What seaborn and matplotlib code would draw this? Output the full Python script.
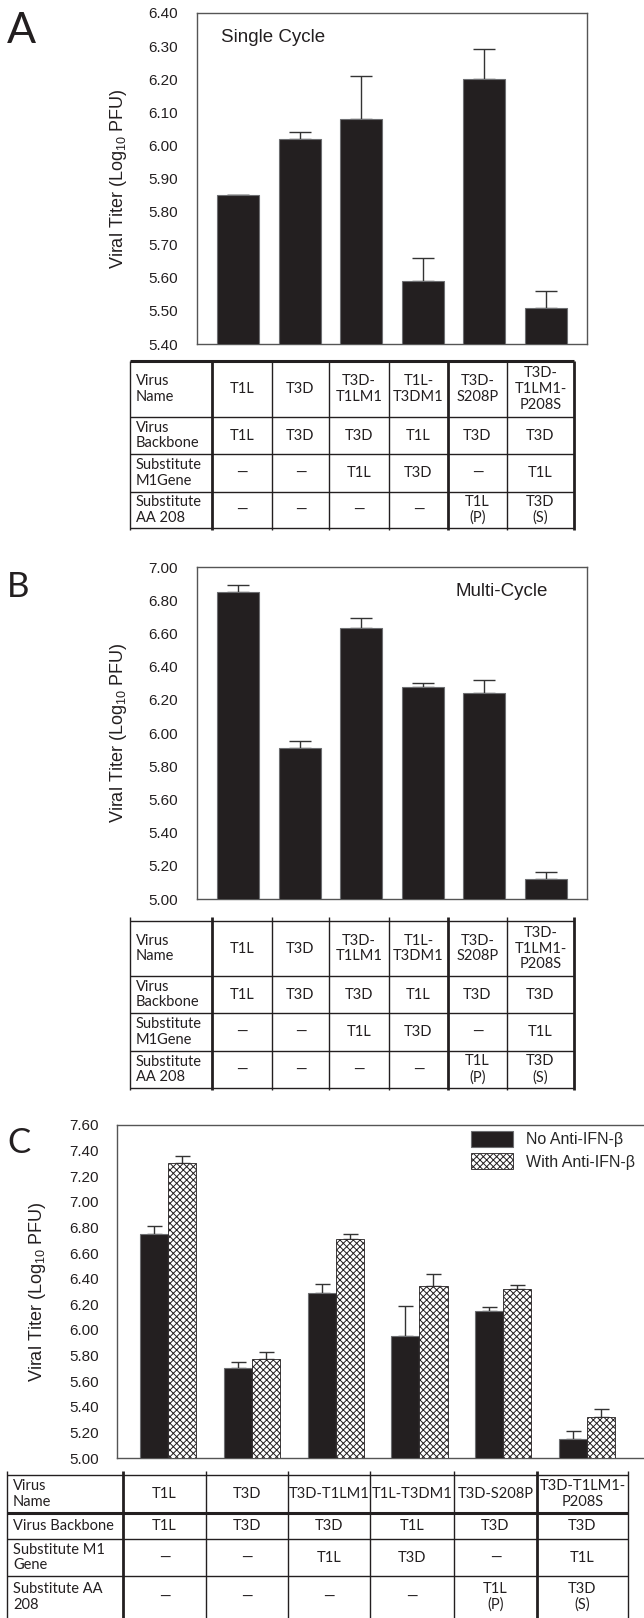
import numpy as np
import pandas as pd
import matplotlib
matplotlib.use("Agg")
import matplotlib.pyplot as plt
from matplotlib.patches import Patch
from matplotlib.ticker import MultipleLocator, FormatStrFormatter
import seaborn as sns

# ---- data -------------------------------------------------------------
viruses = ["T1L", "T3D", "T3D-T1LM1", "T1L-T3DM1", "T3D-S208P", "T3D-T1LM1-P208S"]

single_cycle = [5.85, 6.02, 6.08, 5.59, 6.20, 5.51]
single_cycle_err = [0.00, 0.02, 0.13, 0.07, 0.09, 0.05]

multi_cycle = [6.85, 5.91, 6.63, 6.28, 6.24, 5.12]
multi_cycle_err = [0.04, 0.04, 0.06, 0.02, 0.08, 0.04]

no_anti_ifn = [6.75, 5.70, 6.29, 5.95, 6.15, 5.15]
no_anti_ifn_err = [0.06, 0.05, 0.07, 0.24, 0.03, 0.06]
with_anti_ifn = [7.30, 5.77, 6.71, 6.34, 6.32, 5.32]
with_anti_ifn_err = [0.06, 0.06, 0.04, 0.10, 0.03, 0.06]

treatments = ["No Anti-IFN-β", "With Anti-IFN-β"]

names_narrow = ["T1L", "T3D", "T3D-\nT1LM1", "T1L-\nT3DM1", "T3D-\nS208P", "T3D-\nT1LM1-\nP208S"]
names_wide = ["T1L", "T3D", "T3D-T1LM1", "T1L-T3DM1", "T3D-S208P", "T3D-T1LM1-\nP208S"]
backbone = ["T1L", "T3D", "T3D", "T1L", "T3D", "T3D"]
subst_m1 = ["—", "—", "T1L", "T3D", "—", "T1L"]
subst_aa208 = ["—", "—", "—", "—", "T1L\n(P)", "T3D\n(S)"]
row_heads_narrow = ["Virus\nName", "Virus\nBackbone", "Substitute\nM1Gene", "Substitute\nAA 208"]
row_heads_wide = ["Virus\nName", "Virus Backbone", "Substitute M1\nGene", "Substitute AA\n208"]

# ---- style ------------------------------------------------------------
sns.set_theme(style="white")
plt.rcParams["font.family"] = ["Liberation Sans", "DejaVu Sans"]
plt.rcParams["mathtext.fontset"] = "custom"
plt.rcParams["mathtext.rm"] = "Liberation Sans"
plt.rcParams["mathtext.it"] = "Liberation Sans:italic"
plt.rcParams["hatch.linewidth"] = 0.7
TABLE_FONT = ["Lato", "DejaVu Sans"]
BAR = "#231f20"
EDGE = "#6d6e71"
ERR = "#333333"

W, H = 644, 1618
fig = plt.figure(figsize=(W / 100, H / 100), dpi=100)


def px_axes(left, top, right, bottom):
    return fig.add_axes([left / W, 1 - bottom / H, (right - left) / W, (bottom - top) / H])


def style_axis(ax, ymin, ymax, major, minor, right_spine=True):
    ax.set_ylim(ymin, ymax)
    ax.yaxis.set_major_locator(MultipleLocator(major))
    ax.yaxis.set_minor_locator(MultipleLocator(minor))
    ax.yaxis.set_major_formatter(FormatStrFormatter("%.2f"))
    ax.tick_params(axis="y", which="major", direction="in", length=7, width=0.9,
                   color="#444444", pad=14, labelsize=11, labelcolor="#231f20")
    ax.tick_params(axis="y", which="minor", direction="in", length=4, width=0.7, color="#444444")
    ax.tick_params(axis="x", length=0)
    ax.set_xticks([])
    ax.set_xlabel("")
    for side, sp in ax.spines.items():
        sp.set_color("#555555")
        sp.set_linewidth(1.0)
    if not right_spine:
        ax.spines["right"].set_visible(False)
    ax.set_ylabel("Viral Titer (Log$_{10}$ PFU)", fontsize=13, color="#231f20")


def single_panel(ax, values, errs, ymin, ymax, major, minor):
    df = pd.DataFrame({"virus": viruses, "titer": values})
    sns.barplot(data=df, x="virus", y="titer", order=viruses, color=BAR, saturation=1,
                width=0.68, errorbar=None, edgecolor=EDGE, linewidth=0.8, ax=ax)
    for p in ax.patches:
        p.set_zorder(3)
    x = np.arange(len(viruses))
    ax.errorbar(x, values, yerr=[np.zeros(len(errs)), errs], fmt="none", ecolor=ERR,
                elinewidth=1.0, capsize=7.6, capthick=1.0, zorder=2)
    ax.set_xlim(-0.665, 5.665)
    style_axis(ax, ymin, ymax, major, minor)


# ---- panel A ----------------------------------------------------------
axA = px_axes(197, 13, 587, 344)
single_panel(axA, single_cycle, single_cycle_err, 5.40, 6.40, 0.10, 0.01)
axA.yaxis.set_label_coords(-0.175, 0.5)
axA.text(0.0615, 0.927, "Single Cycle", transform=axA.transAxes, fontsize=13.5,
         ha="left", va="center", color="#231f20")

# ---- panel B ----------------------------------------------------------
axB = px_axes(197, 567, 587, 899)
single_panel(axB, multi_cycle, multi_cycle_err, 5.00, 7.00, 0.20, 0.02)
axB.yaxis.set_label_coords(-0.175, 0.5)
axB.text(0.664, 0.925, "Multi-Cycle", transform=axB.transAxes, fontsize=13.5,
         ha="left", va="center", color="#231f20")

# ---- panel C ----------------------------------------------------------
axC = px_axes(117, 1125, 644, 1458)
dfC = pd.DataFrame({
    "virus": viruses * 2,
    "treatment": [treatments[0]] * 6 + [treatments[1]] * 6,
    "titer": no_anti_ifn + with_anti_ifn,
})
sns.barplot(data=dfC, x="virus", y="titer", hue="treatment", order=viruses,
            hue_order=treatments, palette={treatments[0]: BAR, treatments[1]: "white"},
            saturation=1, width=0.67, errorbar=None, edgecolor=EDGE, linewidth=0.8,
            legend=False, ax=axC)
for p in axC.containers[0]:
    p.set_zorder(3)
for p in axC.containers[1]:
    p.set_zorder(3)
    p.set_hatch("xxxxx")
    p.set_edgecolor("#231f20")
    p.set_linewidth(0.6)
xc = np.arange(len(viruses))
off = 0.67 / 4
axC.errorbar(xc - off, no_anti_ifn, yerr=[np.zeros(6), no_anti_ifn_err], fmt="none",
             ecolor=ERR, elinewidth=1.0, capsize=5.4, capthick=1.0, zorder=2)
axC.errorbar(xc + off, with_anti_ifn, yerr=[np.zeros(6), with_anti_ifn_err], fmt="none",
             ecolor=ERR, elinewidth=1.0, capsize=5.4, capthick=1.0, zorder=2)
axC.set_xlim(-0.61, 5.68)
style_axis(axC, 5.00, 7.60, 0.20, 0.04, right_spine=False)
axC.tick_params(axis="y", which="major", pad=13)
axC.yaxis.set_label_coords(-0.13, 0.5)

handles = [Patch(facecolor=BAR, edgecolor=EDGE, linewidth=0.8, label=treatments[0]),
           Patch(facecolor="white", edgecolor="#231f20", hatch="xxxxx", linewidth=0.6,
                 label=treatments[1])]
fig.legend(handles=handles, loc="upper left", bbox_to_anchor=(471 / W, 1 - 1131 / H),
           frameon=False, fontsize=11.5, handlelength=2.6, handleheight=1.15,
           handletextpad=0.85, labelspacing=0.38, borderpad=0, borderaxespad=0)

# ---- panel letters and tables (pixel overlay) ------------------------
ov = fig.add_axes([0, 0, 1, 1], zorder=-1)
ov.set_xlim(0, W)
ov.set_ylim(H, 0)
ov.axis("off")

ov.text(7, 43, "A", fontsize=31, family=TABLE_FONT, color="#231f20", va="baseline", ha="left")
ov.text(7, 597, "B", fontsize=25, family=TABLE_FONT, color="#231f20", va="baseline", ha="left")
ov.text(7, 1153, "C", fontsize=25, family=TABLE_FONT, color="#231f20", va="baseline", ha="left")


def draw_table(cols, rows, heads, name_row, head_x, thick_cols, thick_rows,
               bottom_line=True, stub=0, fontsize=10.5):
    rows_data = [name_row, backbone, subst_m1, subst_aa208]
    top, bottom = rows[0], rows[-1]
    # vertical rules
    for i, x in enumerate(cols):
        lw = 2.0 if i in thick_cols else 1.0
        ov.plot([x, x], [top - stub, bottom + (2 if bottom_line else 0)], color="#231f20",
                lw=lw, solid_capstyle="butt")
    # horizontal rules
    for j, y in enumerate(rows):
        if j == len(rows) - 1 and not bottom_line:
            continue
        lw = 2.2 if j in thick_rows else 1.0
        ov.plot([cols[0], cols[-1]], [y, y], color="#231f20", lw=lw, solid_capstyle="butt")
    for r in range(4):
        yc = (rows[r] + rows[r + 1]) / 2
        ov.text(head_x, yc, heads[r], ha="left", va="center", fontsize=fontsize,
                family=TABLE_FONT, color="#231f20", linespacing=1.15)
        for c in range(6):
            xc_ = (cols[c + 1] + cols[c + 2]) / 2
            ov.text(xc_, yc, rows_data[r][c], ha="center", va="center", fontsize=fontsize,
                    family=TABLE_FONT, color="#231f20", linespacing=1.15,
                    multialignment="center")


cols_ab = [130, 212, 272, 329, 389, 448, 507, 574]
draw_table(cols_ab, [361, 417, 454, 492, 528], row_heads_narrow, names_narrow, 136,
           thick_cols={1, 5, 7}, thick_rows={0})
draw_table(cols_ab, [921, 976, 1013, 1051, 1088], row_heads_narrow, names_narrow, 136,
           thick_cols={1, 5, 7}, thick_rows=set(), stub=4)
draw_table([7, 123, 206, 288, 370, 454, 537, 628], [1475, 1513, 1539, 1576, 1618],
           row_heads_wide, names_wide, 13, thick_cols={1, 6}, thick_rows={1},
           bottom_line=False, stub=4)

fig.savefig("out.png", dpi=100, facecolor="white")
